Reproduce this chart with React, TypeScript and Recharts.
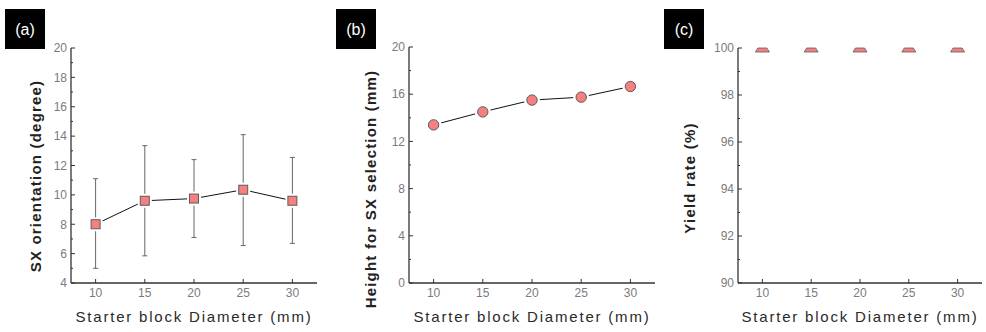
import React from 'react';
import { ComposedChart, Scatter, XAxis, YAxis, ErrorBar } from 'recharts';

// values
const diameters = [10, 15, 20, 25, 30];
const sxOrientation = [8.0, 9.6, 9.75, 10.35, 9.6];
const sxLower = [5.0, 5.85, 7.1, 6.55, 6.7];
const sxUpper = [11.1, 13.35, 12.4, 14.1, 12.55];
const selectionHeight = [13.4, 14.5, 15.5, 15.75, 16.65];
const yieldRate = [100, 100, 100, 100, 100];

const xTicks = [10, 15, 20, 25, 30];
const ticksA = [4, 5, 6, 7, 8, 9, 10, 11, 12, 13, 14, 15, 16, 17, 18, 19, 20];
const majorsA = [4, 6, 8, 10, 12, 14, 16, 18, 20];
const ticksB = [0, 2, 4, 6, 8, 10, 12, 14, 16, 18, 20];
const majorsB = [0, 4, 8, 12, 16, 20];
const ticksC = [90, 91, 92, 93, 94, 95, 96, 97, 98, 99, 100];
const majorsC = [90, 92, 94, 96, 98, 100];

const xTitle = 'Starter block Diameter (mm)';

const dataA = diameters.map((d, i) => ({
  d,
  v: sxOrientation[i],
  err: [sxOrientation[i] - sxLower[i], sxUpper[i] - sxOrientation[i]],
}));
const dataB = diameters.map((d, i) => ({ d, v: selectionHeight[i] }));
const dataC = diameters.map((d, i) => ({ d, v: yieldRate[i] }));

const FONT = 'Liberation Sans, Arial, sans-serif';
const AXIS = '#333';
const TICK_TEXT = '#7a7a80';
const PINK = '#f67f7f';
const EDGE = '#5c5c5c';

const XTick = ({ x, y, payload }: any) => (
  <g>
    <line x1={x} x2={x} y1={y - 5} y2={y - 9} stroke={AXIS} strokeWidth={1} />
    <text x={x} y={y} dy="0.71em" textAnchor="middle" fontSize={12} fontFamily={FONT} fill={TICK_TEXT}>
      {payload.value}
    </text>
  </g>
);

const makeYTick = (majors: number[]) => ({ x, y, payload }: any) => {
  const major = majors.includes(payload.value);
  return (
    <g>
      <line x1={x + 4} x2={x + 4 + (major ? 4 : 2)} y1={y} y2={y} stroke={AXIS} strokeWidth={1} />
      {major && (
        <text x={x} y={y} dy="0.355em" textAnchor="end" fontSize={12} fontFamily={FONT} fill={TICK_TEXT}>
          {payload.value}
        </text>
      )}
    </g>
  );
};

const SquareHalo = ({ cx, cy }: any) => <rect x={cx - 7} y={cy - 7} width={14} height={14} fill="#fff" />;
const Square = ({ cx, cy }: any) => (
  <rect x={cx - 4.5} y={cy - 4.5} width={9} height={9} fill={PINK} stroke={EDGE} strokeWidth={1} />
);
const CircleHalo = ({ cx, cy }: any) => <circle cx={cx} cy={cy} r={8} fill="#fff" />;
const Dot = ({ cx, cy }: any) => <circle cx={cx} cy={cy} r={5.2} fill={PINK} stroke={EDGE} strokeWidth={1} />;
// triangle centred on the top edge, only the part inside the frame shows
const HalfTriangle = ({ cx, cy }: any) => (
  <polygon
    points={`${cx - 4.5},${cy} ${cx + 4.5},${cy} ${cx + 7},${cy + 4} ${cx - 7},${cy + 4}`}
    fill={PINK}
    stroke={EDGE}
    strokeWidth={0.8}
  />
);

const Frame = ({ domain }: { domain: [number, number] }) => null;

function Panel({ left, width, margin, yDomain, yTicks, majors, children }: any) {
  return (
    <div style={{ position: 'absolute', left, top: 0 }}>
      <ComposedChart width={width} height={332} margin={margin}>
        <XAxis
          dataKey="d"
          type="number"
          domain={[7.5, 32.5]}
          ticks={xTicks}
          interval={0}
          height={30}
          tickSize={0}
          tickMargin={5}
          tickLine={false}
          tick={<XTick />}
          axisLine={{ stroke: AXIS, strokeWidth: 1.3 }}
        />
        <XAxis
          xAxisId="top"
          orientation="top"
          type="number"
          domain={[7.5, 32.5]}
          height={0}
          tick={false}
          tickLine={false}
          axisLine={{ stroke: AXIS, strokeWidth: 1.3 }}
        />
        <YAxis
          type="number"
          domain={yDomain}
          ticks={yTicks}
          interval={0}
          width={40}
          tickSize={0}
          tickMargin={4}
          tickLine={false}
          tick={makeYTick(majors)}
          axisLine={{ stroke: AXIS, strokeWidth: 1.3 }}
        />
        <YAxis
          yAxisId="right"
          orientation="right"
          type="number"
          domain={yDomain}
          width={0}
          tick={false}
          tickLine={false}
          axisLine={{ stroke: AXIS, strokeWidth: 1.3 }}
        />
        {children}
      </ComposedChart>
    </div>
  );
}

const labelBoxes = [
  { x: 5, t: '(a)' },
  { x: 336, t: '(b)' },
  { x: 664, t: '(c)' },
];

const yTitles = [
  { x: 36, y: 176, t: 'SX orientation (degree)' },
  { x: 371, y: 189, t: 'Height for SX selection (mm)' },
  { x: 690, y: 178, t: 'Yield rate (%)' },
];

const xTitleCenters = [194, 532, 860];

export default function App() {
  return (
    <div style={{ position: 'absolute', left: 0, top: 0, width: 986, height: 332, background: '#fff', overflow: 'hidden' }}>
      <Panel left={0} width={330} margin={{ top: 48, right: 13, bottom: 19, left: 31 }} yDomain={[4, 20]} yTicks={ticksA} majors={majorsA}>
        <Scatter data={dataA} dataKey="v" shape={<SquareHalo />} line={{ stroke: '#111', strokeWidth: 1 }} isAnimationActive={false} />
        <Scatter data={dataA} dataKey="v" shape={<Square />} isAnimationActive={false}>
          <ErrorBar dataKey="err" direction="y" width={2.5} stroke="#666" strokeWidth={1} />
        </Scatter>
      </Panel>
      <Panel left={330} width={330} margin={{ top: 47, right: 5, bottom: 19, left: 39 }} yDomain={[0, 20]} yTicks={ticksB} majors={majorsB}>
        <Scatter data={dataB} dataKey="v" shape={<CircleHalo />} line={{ stroke: '#111', strokeWidth: 1 }} isAnimationActive={false} />
        <Scatter data={dataB} dataKey="v" shape={<Dot />} isAnimationActive={false} />
      </Panel>
      <Panel left={660} width={326} margin={{ top: 48, right: 4, bottom: 19, left: 38 }} yDomain={[90, 100]} yTicks={ticksC} majors={majorsC}>
        <Scatter data={dataC} dataKey="v" shape={<HalfTriangle />} isAnimationActive={false} />
      </Panel>

      <svg width={986} height={332} style={{ position: 'absolute', left: 0, top: 0, pointerEvents: 'none' }}>
        {labelBoxes.map((b) => (
          <g key={b.t}>
            <rect x={b.x} y={9} width={40} height={40} fill="#000" />
            <text x={b.x + 20} y={29} dy="0.35em" textAnchor="middle" fontSize={16} fontFamily={FONT} fill="#fff">
              {b.t}
            </text>
          </g>
        ))}
        {yTitles.map((t) => (
          <text
            key={t.t}
            x={t.x}
            y={t.y}
            dy="0.35em"
            transform={`rotate(-90 ${t.x} ${t.y})`}
            textAnchor="middle"
            fontSize={15}
            fontWeight="bold"
            letterSpacing={1.2}
            fontFamily={FONT}
            fill="#222"
          >
            {t.t}
          </text>
        ))}
        {xTitleCenters.map((cx) => (
          <text
            key={cx}
            x={cx}
            y={317}
            dy="0.35em"
            textAnchor="middle"
            fontSize={15}
            letterSpacing={1.8}
            fontFamily={FONT}
            fill="#2a2a2a"
          >
            {xTitle}
          </text>
        ))}
      </svg>
    </div>
  );
}
